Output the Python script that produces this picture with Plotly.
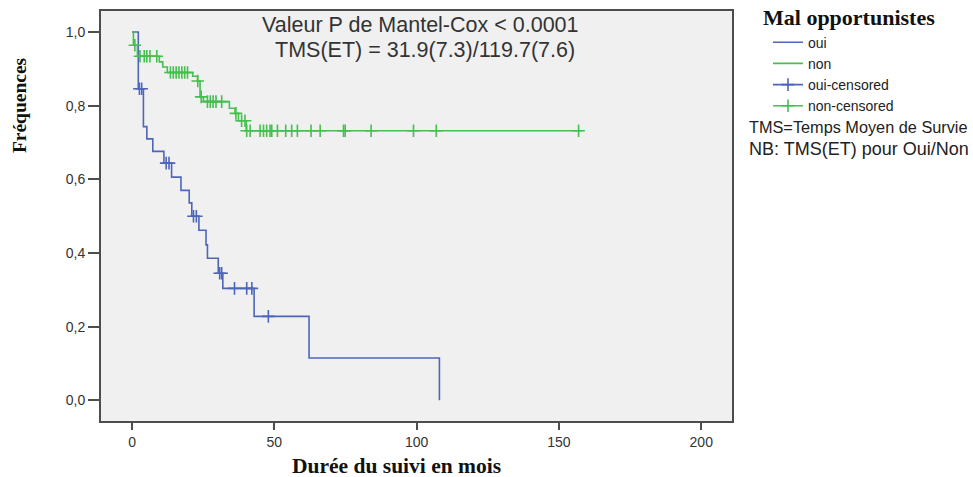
import numpy as np
import plotly.graph_objects as go

# ---- data ----
oui_time = [0, 2.2, 4.0, 5.2, 7.3, 11.2, 13.9, 17.2, 20.1, 21.0, 23.5, 26.0, 26.5, 30.3, 31.9, 42.9, 62.2, 108.0]
oui_surv = [1.0, 0.846, 0.743, 0.710, 0.676, 0.644, 0.606, 0.570, 0.536, 0.500, 0.462, 0.422, 0.386, 0.345, 0.304, 0.228, 0.115, 0.0]
oui_censor = [2.6, 3.4, 12.0, 13.0, 21.6, 22.6, 30.8, 31.5, 36.0, 40.3, 42.1, 47.9]

non_time = [0, 0.5, 1.9, 9.6, 10.8, 12.4, 21.3, 23.0, 23.9, 25.1, 34.2, 36.2, 37.4, 40.1, 158.0]
non_surv = [1.0, 0.964, 0.934, 0.919, 0.905, 0.890, 0.880, 0.867, 0.824, 0.811, 0.793, 0.779, 0.759, 0.732, 0.732]
non_censor = [1.0, 2.8, 4.3, 5.2, 6.3, 8.7, 13.5, 14.5, 15.5, 16.5, 17.5, 18.5, 19.5, 23.1, 24.3,
              26.5, 27.5, 28.5, 29.5, 31.5, 36.5, 38.5, 39.7, 40.3, 41.5, 45.0, 46.2, 47.3, 48.5,
              49.1, 51.1, 54.0, 56.1, 58.1, 62.9, 66.1, 74.3, 74.9, 84.0, 98.9, 106.9, 156.9]

x_ticks = [0, 50, 100, 150, 200]
y_ticks = [0.0, 0.2, 0.4, 0.6, 0.8, 1.0]
y_ticklabels = ["0,0", "0,2", "0,4", "0,6", "0,8", "1,0"]

BLUE = "#4d66b8"
GREEN = "#45bf4f"


def step_value(times, surv, t):
    idx = np.searchsorted(np.array(times), t, side="right") - 1
    return float(np.array(surv)[idx])


def gapped(values):
    out = []
    for v in values:
        out += [v, None]
    return out


oui_cy = [step_value(oui_time, oui_surv, t) for t in oui_censor]
non_cy = [step_value(non_time, non_surv, t) for t in non_censor]

fig = go.Figure()
fig.add_trace(go.Scatter(x=oui_time, y=oui_surv, mode="lines", line=dict(shape="hv", color=BLUE, width=1.6),
                         name="oui"))
fig.add_trace(go.Scatter(x=non_time, y=non_surv, mode="lines", line=dict(shape="hv", color=GREEN, width=1.6),
                         name="non"))
fig.add_trace(go.Scatter(x=gapped(oui_censor), y=gapped(oui_cy), mode="lines+markers",
                         line=dict(color=BLUE, width=1.6), connectgaps=False,
                         marker=dict(symbol="cross-thin", size=9, line=dict(color=BLUE, width=1.6)),
                         name="oui-censored"))
fig.add_trace(go.Scatter(x=gapped(non_censor), y=gapped(non_cy), mode="lines+markers",
                         line=dict(color=GREEN, width=1.6), connectgaps=False,
                         marker=dict(symbol="cross-thin", size=9, line=dict(color=GREEN, width=1.6)),
                         name="non-censored"))

sans = "Liberation Sans, Arial, sans-serif"
serif = "Liberation Serif, Times New Roman, serif"

fig.update_layout(
    width=973, height=477,
    margin=dict(l=101, r=241, t=9, b=56),
    paper_bgcolor="white",
    plot_bgcolor="#f0f0f0",
    showlegend=True,
    legend=dict(x=1.057, y=0.962, xanchor="left", yanchor="top",
                font=dict(family=sans, size=14, color="#222"),
                bgcolor="rgba(0,0,0,0)", itemwidth=30, tracegroupgap=0),
    xaxis=dict(range=[-10.9, 210.8], tickvals=x_ticks, ticktext=[str(v) for v in x_ticks],
               showgrid=False, zeroline=False, showline=True, mirror=True,
               linecolor="#4d4d4d", linewidth=2, ticks="outside", ticklen=7, tickwidth=2,
               tickcolor="#4d4d4d", tickfont=dict(family=sans, size=14, color="#333")),
    yaxis=dict(range=[-0.056, 1.057], tickvals=y_ticks, ticktext=y_ticklabels,
               showgrid=False, zeroline=False, showline=True, mirror=True,
               linecolor="#4d4d4d", linewidth=2, ticks="outside", ticklen=11, tickwidth=2,
               tickcolor="#4d4d4d", tickfont=dict(family=sans, size=14, color="#333")),
)

annotations = [
    dict(text="Valeur P de Mantel-Cox &lt; 0.0001", x=0.506, y=0.966, size=21.5, family=sans, color="#333"),
    dict(text="TMS(ET) = 31.9(7.3)/119.7(7.6)", x=0.513, y=0.906, size=21.5, family=sans, color="#333"),
    dict(text="<b>Durée du suivi en mois</b>", x=0.469, y=-0.109, size=21.5, family=serif, color="#111"),
    dict(text="<b>Mal opportunistes</b>", x=1.185, y=0.983, size=22, family=serif, color="#111"),
    dict(text="TMS=Temps Moyen de Survie", x=1.201, y=0.716, size=16.3, family=sans, color="#222"),
    dict(text="NB: TMS(ET) pour Oui/Non", x=1.201, y=0.663, size=18, family=sans, color="#222"),
]
for a in annotations:
    fig.add_annotation(text=a["text"], x=a["x"], y=a["y"], xref="paper", yref="paper",
                       xanchor="center", yanchor="middle", showarrow=False,
                       font=dict(family=a["family"], size=a["size"], color=a["color"]))

fig.add_annotation(text="<b>Fréquences</b>", x=-0.128, y=0.771, xref="paper", yref="paper",
                   xanchor="center", yanchor="middle", showarrow=False, textangle=-90,
                   font=dict(family=serif, size=19.5, color="#111"))

fig.write_html("out.html")
